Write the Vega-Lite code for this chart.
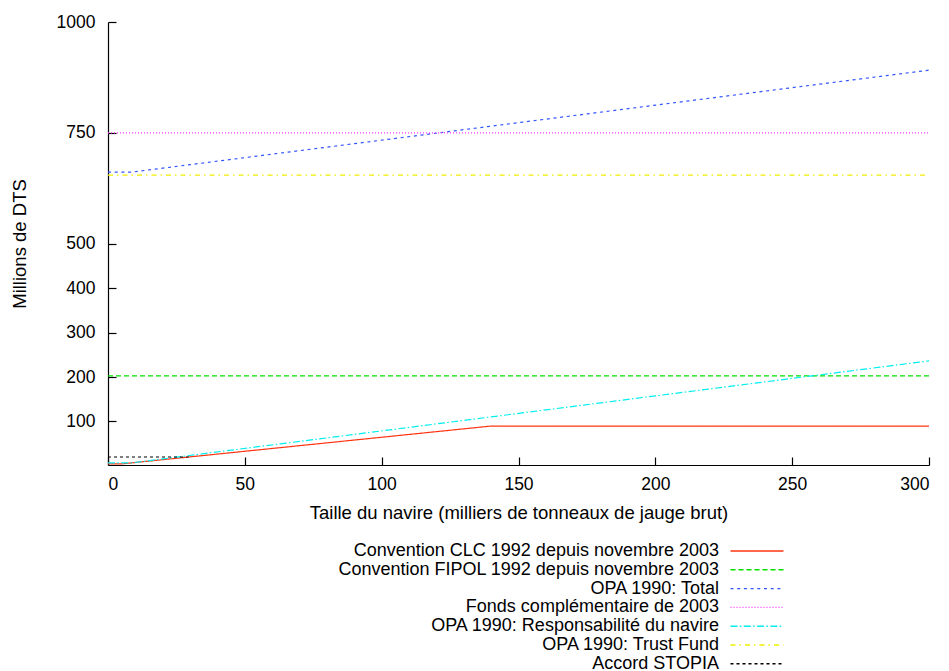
{
  "$schema": "https://vega.github.io/schema/vega-lite/v6.json",
  "width": 821,
  "height": 443,
  "autosize": "none",
  "padding": {"left": 108, "top": 22, "right": 20, "bottom": 206},
  "background": "white",
  "config": {
    "view": {"stroke": null},
    "font": "Liberation Sans",
    "axis": {
      "grid": false,
      "domainColor": "black",
      "domainWidth": 1.2,
      "tickColor": "black",
      "tickWidth": 1.2,
      "tickSize": -8,
      "labelColor": "black",
      "labelFont": "Liberation Sans",
      "labelFontSize": 17.5,
      "titleColor": "black",
      "titleFont": "Liberation Sans",
      "titleFontSize": 18.5,
      "titleFontWeight": "normal"
    }
  },
  "data": {
    "values": [
      {"series": "Convention CLC 1992 depuis novembre 2003", "x": 0, "y": 4.51},
      {"series": "Convention CLC 1992 depuis novembre 2003", "x": 5, "y": 4.51},
      {"series": "Convention CLC 1992 depuis novembre 2003", "x": 140, "y": 89.77},
      {"series": "Convention CLC 1992 depuis novembre 2003", "x": 300, "y": 89.77},
      {"series": "Convention FIPOL 1992 depuis novembre 2003", "x": 0, "y": 203},
      {"series": "Convention FIPOL 1992 depuis novembre 2003", "x": 300, "y": 203},
      {"series": "OPA 1990: Total", "x": 0, "y": 662},
      {"series": "OPA 1990: Total", "x": 8.9, "y": 662},
      {"series": "OPA 1990: Total", "x": 300, "y": 891.5},
      {"series": "Fonds complémentaire de 2003", "x": 0, "y": 750},
      {"series": "Fonds complémentaire de 2003", "x": 300, "y": 750},
      {"series": "OPA 1990: Responsabilité du navire", "x": 0, "y": 7},
      {"series": "OPA 1990: Responsabilité du navire", "x": 8.9, "y": 7},
      {"series": "OPA 1990: Responsabilité du navire", "x": 300, "y": 236.5},
      {"series": "OPA 1990: Trust Fund", "x": 0, "y": 655},
      {"series": "OPA 1990: Trust Fund", "x": 300, "y": 655},
      {"series": "Accord STOPIA", "x": 0, "y": 20},
      {"series": "Accord STOPIA", "x": 29.5, "y": 20}
    ]
  },
  "mark": {"type": "line", "strokeWidth": 1.2, "clip": true},
  "encoding": {
    "x": {
      "field": "x",
      "type": "quantitative",
      "scale": {"domain": [0, 300], "nice": false},
      "axis": {
        "values": [0, 50, 100, 150, 200, 250, 300],
        "format": "d",
        "title": "Taille du navire (milliers de tonneaux de jauge brut)",
        "labelPadding": 18,
        "titlePadding": 11
      }
    },
    "y": {
      "field": "y",
      "type": "quantitative",
      "scale": {"domain": [2, 1000], "nice": false, "zero": false},
      "axis": {
        "values": [100, 200, 300, 400, 500, 750, 1000],
        "format": "d",
        "title": "Millions de DTS",
        "labelPadding": 21,
        "titlePadding": 27
      }
    },
    "color": {
      "field": "series",
      "type": "nominal",
      "scale": {
        "domain": [
          "Convention CLC 1992 depuis novembre 2003",
          "Convention FIPOL 1992 depuis novembre 2003",
          "OPA 1990: Total",
          "Fonds complémentaire de 2003",
          "OPA 1990: Responsabilité du navire",
          "OPA 1990: Trust Fund",
          "Accord STOPIA"
        ],
        "range": ["#ff3311", "#00e000", "#3355ff", "#ff33ff", "#00eeee", "#eeee00", "#000000"]
      },
      "legend": {
        "title": null,
        "orient": "none",
        "legendX": 640,
        "legendY": 520,
        "symbolType": "M-4,0H4",
        "symbolSize": 175.6,
        "symbolStrokeWidth": 1.4,
        "labelAlign": "right",
        "labelOffset": -47,
        "labelFontSize": 18,
        "labelFont": "Liberation Sans",
        "labelColor": "black",
        "labelLimit": 0,
        "rowPadding": 0.8
      }
    },
    "strokeDash": {
      "field": "series",
      "type": "nominal",
      "scale": {
        "domain": [
          "Convention CLC 1992 depuis novembre 2003",
          "Convention FIPOL 1992 depuis novembre 2003",
          "OPA 1990: Total",
          "Fonds complémentaire de 2003",
          "OPA 1990: Responsabilité du navire",
          "OPA 1990: Trust Fund",
          "Accord STOPIA"
        ],
        "range": [[1, 0], [5, 3], [3, 3.7], [1, 2], [7, 2.3, 1.5, 2.5], [5, 4, 1.5, 4], [3, 3]]
      },
      "legend": {
        "title": null,
        "orient": "none",
        "legendX": 640,
        "legendY": 520,
        "symbolType": "M-4,0H4",
        "symbolSize": 175.6,
        "symbolStrokeWidth": 1.4,
        "labelAlign": "right",
        "labelOffset": -47,
        "labelFontSize": 18,
        "labelFont": "Liberation Sans",
        "labelColor": "black",
        "labelLimit": 0,
        "rowPadding": 0.8
      }
    }
  }
}
